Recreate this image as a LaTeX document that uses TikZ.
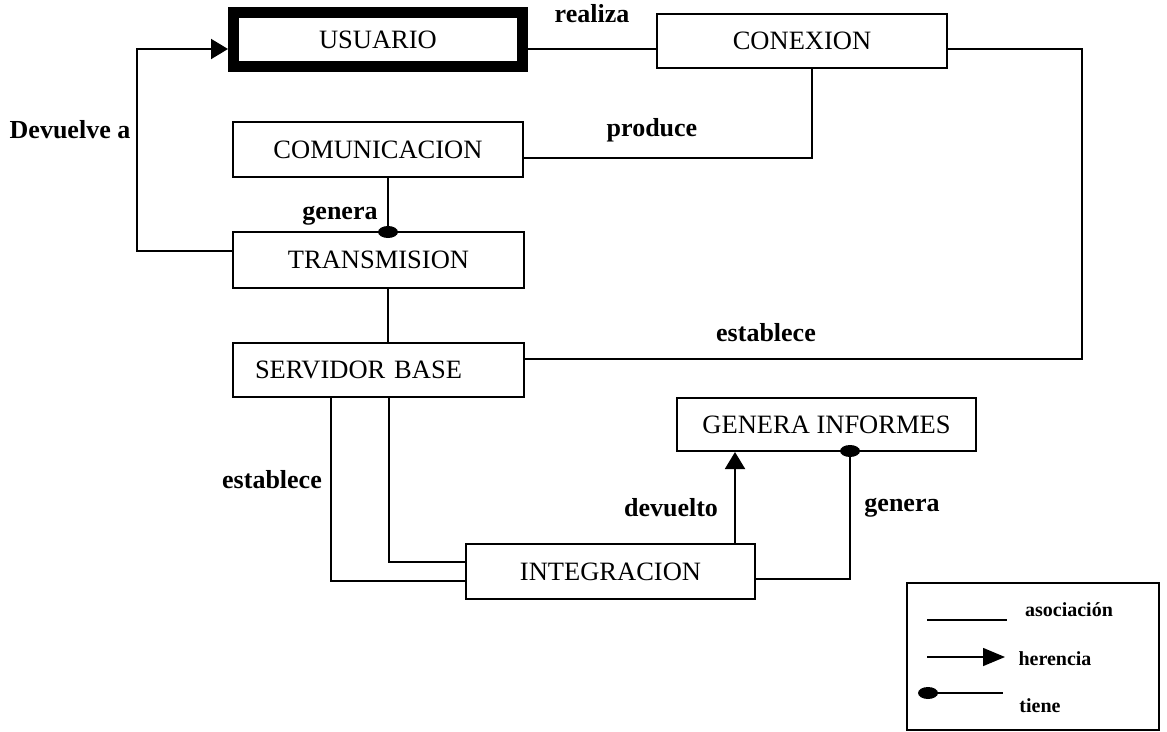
\documentclass[tikz,border=0pt]{standalone}
\usepackage{fontspec}
\setmainfont{Liberation Serif}
\usetikzlibrary{arrows.meta}
\begin{document}
\begin{tikzpicture}[x=1pt, y=-1pt,
		clase/.style={draw, line width=2pt, inner sep=0pt, font=\fontsize{26.5}{30}\selectfont},
		rol/.style={font=\fontsize{26}{30}\selectfont\bfseries},
		ley/.style={font=\fontsize{20}{24}\selectfont\bfseries},
		linea/.style={line width=2pt},
		herencia/.style={linea, -{Triangle[length=17pt, width=20pt]}}]
		\useasboundingbox (0,0) rectangle (1167,731);
		\node[clase, line width=11pt, minimum width=289, minimum height=54] (usuario) at (378,39.5) {USUARIO};
		\node[clase, minimum width=290, minimum height=54] (conexion) at (802,41) {CONEXION};
		\node[clase, minimum width=290, minimum height=55] (comunicacion) at (378,149.5) {COMUNICACION};
		\node[clase, minimum width=291, minimum height=56] (transmision) at (378.5,260) {TRANSMISION};
		\node[clase, minimum width=291, minimum height=54, text width=247, inner xsep=22, align=left] (servidor) at (378.5,370) {SERVIDOR BASE};
		\node[clase, minimum width=299, minimum height=53] (generainf) at (826.5,424.5) {GENERA INFORMES};
		\node[clase, minimum width=289, minimum height=55] (integracion) at (610.5,571.5) {INTEGRACION};
		\draw[linea] (usuario.east |- 0,49) -- (conexion.west |- 0,49);
		\node[rol] (realiza) at (592,14) {realiza};
		\draw[linea] (812,0 |- conexion.south) |- (comunicacion.east |- 0,158);
		\node[rol] (produce) at (652,130) {produce};
		\draw[linea] (388,0 |- comunicacion.south) -- (388,0 |- transmision.north);
		\fill (388,232) ellipse [x radius=10, y radius=6];
		\node[rol] (genera1) at (340,216) {genera};
		\draw[herencia] (transmision.west |- 0,251) -| (137,49) -- (usuario.west |- 0,49);
		\node[rol] (devuelve) at (70,130) {Devuelve a};
		\draw[linea] (388,0 |- transmision.south) -- (388,0 |- servidor.north);
		\draw[linea] (servidor.east |- 0,359) -| (1082,49) -- (conexion.east |- 0,49);
		\node[rol] (establece1) at (766,333) {establece};
		\draw[linea] (331,0 |- servidor.south) |- (integracion.west |- 0,581);
		\draw[linea] (389,0 |- servidor.south) |- (integracion.west |- 0,562);
		\node[rol] (establece2) at (272,480) {establece};
		\draw[herencia] (735,0 |- integracion.north) -- (735,0 |- generainf.south);
		\node[rol] (devuelto) at (671,508) {devuelto};
		\draw[linea] (integracion.east |- 0,579) -| (850,0 |- generainf.south);
		\fill (850,451) ellipse [x radius=10, y radius=6];
		\node[rol] (genera2) at (902,508) {genera};
		\node[draw, linea, minimum width=252, minimum height=147] (leyenda) at (1033,656.5) {};
		\draw[linea] (927,620) -- (1007,620);
		\node[ley] (asociacion) at (1069,610) {asociación};
		\draw[line width=1.5pt, -{Triangle[length=22pt, width=18pt]}] (927,657) -- (1005,657);
		\node[ley] (herenciatxt) at (1055,659) {herencia};
		\draw[linea] (927,693) -- (1003,693);
		\fill (928,693) ellipse [x radius=10, y radius=6];
		\node[ley] (tiene) at (1040,706) {tiene};
	\end{tikzpicture}
\end{document}
